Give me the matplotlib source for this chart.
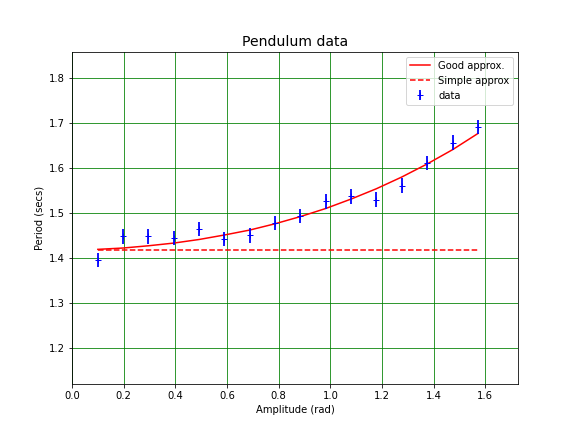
import matplotlib
matplotlib.use("Agg")
import matplotlib.pyplot as plt

# amplitude values (rad)
amplitude = [0.100, 0.198, 0.296, 0.394, 0.492, 0.590, 0.688, 0.786,
             0.884, 0.982, 1.080, 1.178, 1.276, 1.374, 1.473, 1.571]

# measured periods (secs)
period_data = [1.395, 1.448, 1.448, 1.444, 1.464, 1.442, 1.450, 1.478,
               1.493, 1.526, 1.537, 1.530, 1.561, 1.611, 1.657, 1.692]
period_err = [0.016] * 16

# model curves
good_approx = [1.419, 1.422, 1.427, 1.433, 1.441, 1.451, 1.462, 1.476,
               1.492, 1.510, 1.531, 1.554, 1.580, 1.609, 1.641, 1.677]
simple_approx = [1.418] * 16

fig = plt.figure(figsize=(8, 6), dpi=72)
ax = fig.add_subplot(111)

ax.plot(amplitude, good_approx, 'r-', label='Good approx.')
ax.plot(amplitude, simple_approx, 'r--', label='Simple approx')
ax.errorbar(amplitude, period_data, yerr=period_err, fmt='b+', elinewidth=1.8,
            label='data')

ax.set_xlim(0, 1.728)
ax.set_ylim(1.118, 1.859)
ax.grid(True, color='g')

ax.set_xlabel('Amplitude (rad)')
ax.set_ylabel('Period (secs)')
ax.set_title('Pendulum data', fontsize=14)
ax.legend(loc='upper right')

fig.savefig('out.png', dpi=72)
